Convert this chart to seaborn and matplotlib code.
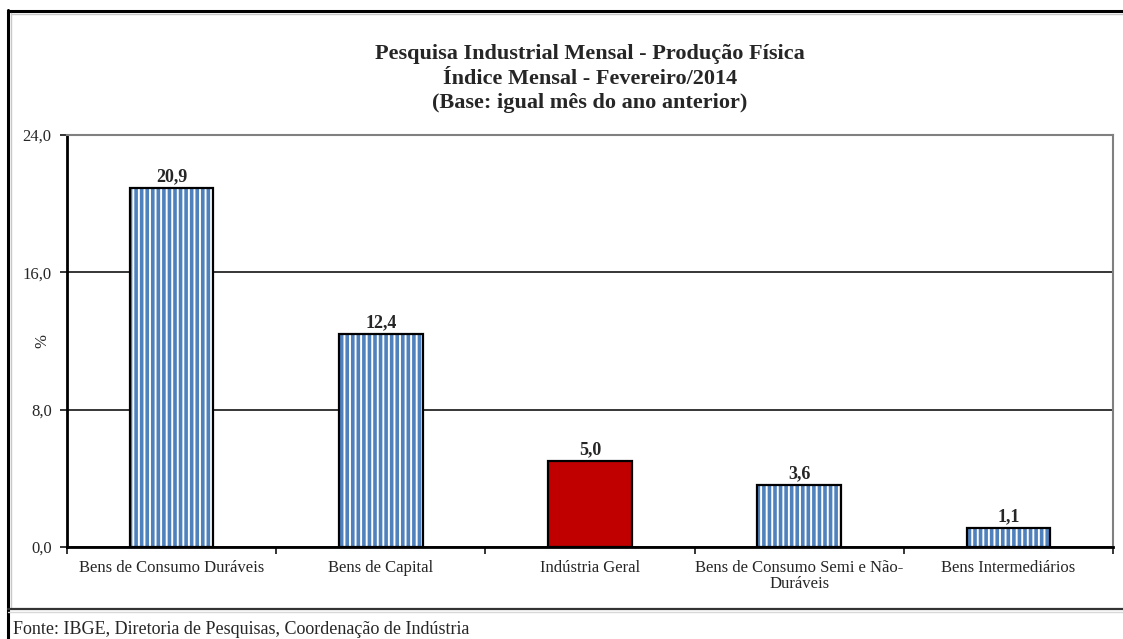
"""
Pesquisa Industrial Mensal - Produção Física, fevereiro/2014.
"""

import matplotlib
matplotlib.use('Agg')
import matplotlib.pyplot as plt
from matplotlib.lines import Line2D
import pandas as pd
import seaborn as sns

# Data
categories = ['Bens de Consumo Duráveis', 'Bens de Capital', 'Indústria Geral',
              'Bens de Consumo Semi e Não-\nDuráveis', 'Bens Intermediários']
values = [20.9, 12.4, 5.0, 3.6, 1.1]
highlight = 'Indústria Geral'
y_ticks = [0.0, 8.0, 16.0, 24.0]
title_lines = ['Pesquisa Industrial Mensal - Produção Física',
               'Índice Mensal - Fevereiro/2014',
               '(Base: igual mês do ano anterior)']
source = 'Fonte: IBGE, Diretoria de Pesquisas, Coordenação de Indústria'

BLUE = '#4F81BD'
RED = '#C00000'

sns.set_style('white')
plt.rcParams['font.family'] = ['Liberation Serif', 'DejaVu Serif']
plt.rcParams['hatch.linewidth'] = 2.6

df = pd.DataFrame({'cat': categories, 'val': values})

fig = plt.figure(figsize=(11.23, 6.39), dpi=100)
ax = fig.add_axes([67 / 1123, 92 / 639, 1046 / 1123, 412 / 639])

# fill layer: blue stripes on white, red for the general index
face = ['white' if c != highlight else RED for c in categories]
sns.barplot(data=df, x='cat', y='val', hue='cat', palette=face, legend=False,
            width=0.4, ax=ax, linewidth=0, saturation=1, zorder=3)
for p, c in zip(ax.patches, categories):
    if c != highlight:
        p.set_hatch('|||')
        p.set_edgecolor(BLUE)

# outline layer
sns.barplot(data=df, x='cat', y='val', fill=False, color='black', width=0.4,
            ax=ax, linewidth=1.6, zorder=4)

# value labels
for i, v in enumerate(values):
    ax.text(i, v + 0.15, f'{v:.1f}'.replace('.', ','), ha='center', va='bottom',
            fontsize=13, fontweight='bold', zorder=5)

ax.set_ylim(0, 24)
ax.set_xlim(-0.5, len(categories) - 0.5)
ax.set_yticks(y_ticks)
ax.set_yticklabels([f'{t:.1f}'.replace('.', ',') for t in y_ticks], fontsize=12)
ax.set_xticks(range(len(categories)))
ax.set_xticklabels(categories, fontsize=12, linespacing=1.0)
ax.tick_params(axis='x', length=0, pad=9)
ax.tick_params(axis='y', length=5, width=1.3, direction='out', left=True, pad=6)
# boundary ticks between categories
ax.set_xticks([i - 0.5 for i in range(len(categories) + 1)], minor=True)
ax.tick_params(axis='x', which='minor', length=5, width=1.3, direction='out', bottom=True)

ax.set_xlabel('')
ax.set_ylabel('%', fontsize=12)
ax.yaxis.set_label_coords(-17 / 1046, 0.5)

ax.yaxis.grid(True, color='black', linewidth=1.1, zorder=0)
ax.set_axisbelow(True)
for side in ['left', 'bottom']:
    ax.spines[side].set_color('black')
    ax.spines[side].set_linewidth(2)
for side in ['top', 'right']:
    ax.spines[side].set_visible(True)
    ax.spines[side].set_color('#808080')
    ax.spines[side].set_linewidth(1.5)

fig.text((67 + 1113) / 2 / 1123, 1 - 44 / 639, '\n'.join(title_lines), ha='center',
         va='top', fontsize=16, fontweight='bold', linespacing=1.3)

# frame lines round the chart
fig.add_artist(Line2D([8 / 1123, 8 / 1123], [0, 1 - 10 / 639], color='black', lw=2.2,
                      transform=fig.transFigure))
fig.add_artist(Line2D([8 / 1123, 1], [1 - 11 / 639, 1 - 11 / 639], color='black', lw=2.2,
                      transform=fig.transFigure))
fig.add_artist(Line2D([11 / 1123, 11 / 1123], [1 - 609 / 639, 1 - 13 / 639], color='#c8c8c8',
                      lw=1, transform=fig.transFigure))
fig.add_artist(Line2D([11 / 1123, 1], [1 - 14 / 639, 1 - 14 / 639], color='#c8c8c8', lw=1,
                      transform=fig.transFigure))
fig.add_artist(Line2D([8 / 1123, 1], [1 - 609 / 639, 1 - 609 / 639], color='#333333', lw=1.6,
                      transform=fig.transFigure))
fig.add_artist(Line2D([8 / 1123, 1], [1 - 612 / 639, 1 - 612 / 639], color='#d8d8d8', lw=1,
                      transform=fig.transFigure))

fig.text(13 / 1123, 1 - 629 / 639, source, ha='left', va='center', fontsize=13)

plt.savefig('out.png', dpi=100)
plt.close()
